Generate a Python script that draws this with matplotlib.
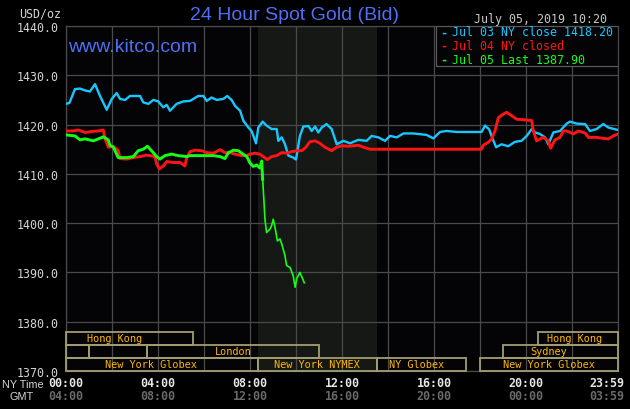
import matplotlib
matplotlib.use("Agg")
import matplotlib.pyplot as plt
from matplotlib.patches import Rectangle

# ---- data (hours after 00:00 NY time, USD/oz) ----
blue_hours = [0, 0.15, 0.39, 0.61, 0.85, 1.04, 1.26, 1.48, 1.77, 1.99, 2.2, 2.35, 2.57, 2.78,
              3.22, 3.36, 3.58, 3.8, 4.01, 4.23, 4.38, 4.52, 4.81, 5.1, 5.39, 5.75, 5.97, 6.12,
              6.33, 6.55, 6.84, 7.01, 7.2, 7.35, 7.57, 7.71, 7.93, 8.07, 8.17, 8.26, 8.36, 8.55,
              8.72, 8.94, 9.16, 9.23, 9.38, 9.52, 9.67, 9.88, 10.0, 10.17, 10.32, 10.54, 10.68,
              10.83, 10.97, 11.12, 11.33, 11.55, 11.77, 12.06, 12.35, 12.71, 13.07, 13.29, 13.58,
              13.87, 14.09, 14.38, 14.67, 15.1, 15.68, 15.97, 16.26, 16.55, 16.99, 18.07, 18.22,
              18.4, 18.55, 18.7, 18.94, 19.23, 19.52, 19.81, 20.03, 20.25, 20.4, 20.6, 20.83,
              20.97, 21.19, 21.48, 21.77, 21.91, 22.2, 22.57, 22.78, 23.07, 23.36, 23.58, 24]
blue_prices = [1424.2, 1424.4, 1427.2, 1427.3, 1426.9, 1426.7, 1428.2, 1425.8, 1423.0, 1425.2,
               1426.4, 1425.2, 1425.0, 1425.8, 1425.8, 1424.5, 1424.2, 1425.0, 1424.7, 1423.5,
               1424.0, 1422.8, 1424.2, 1424.7, 1424.8, 1425.8, 1425.8, 1424.8, 1425.5, 1425.0,
               1425.2, 1425.8, 1425.0, 1423.8, 1422.8, 1420.8, 1419.4, 1418.7, 1417.4, 1416.2,
               1419.4, 1420.6, 1419.8, 1419.1, 1419.1, 1416.7, 1417.4, 1416.0, 1413.7, 1413.3,
               1412.9, 1417.7, 1419.6, 1419.7, 1418.7, 1419.6, 1418.4, 1419.4, 1420.1, 1419.1,
               1416.0, 1416.7, 1416.2, 1416.9, 1416.7, 1417.7, 1417.4, 1416.7, 1417.7, 1417.4,
               1418.2, 1418.2, 1417.9, 1417.2, 1418.5, 1418.7, 1418.5, 1418.5, 1419.8, 1419.0,
               1417.1, 1415.4, 1416.0, 1415.6, 1416.5, 1416.7, 1417.7, 1419.1, 1418.4, 1418.1,
               1417.4, 1416.0, 1418.4, 1418.7, 1420.2, 1420.6, 1420.2, 1420.1, 1418.7, 1419.1,
               1420.1, 1419.4, 1418.9]

red_hours = [0, 0.3, 0.54, 0.83, 1.12, 1.41, 1.62, 1.7, 1.84, 2.06, 2.27, 2.35, 2.64, 2.93,
             3.22, 3.51, 3.87, 3.94, 4.06, 4.23, 4.38, 4.67, 4.96, 5.17, 5.25, 5.39, 5.61, 5.9,
             6.12, 6.41, 6.7, 6.91, 7.13, 7.35, 7.64, 7.86, 8.0, 8.22, 8.43, 8.58, 8.75, 8.94,
             9.16, 9.38, 9.59, 9.81, 10.03, 10.25, 10.43, 10.6, 10.83, 11.04, 11.26, 11.55,
             11.77, 11.99, 12.28, 12.71, 13.07, 13.22, 18.07, 18.14, 18.36, 18.51, 18.65, 18.8,
             19.01, 19.16, 19.38, 19.59, 19.88, 20.25, 20.32, 20.46, 20.75, 20.97, 21.07, 21.26,
             21.48, 21.62, 21.77, 22.06, 22.27, 22.57, 22.71, 23.07, 23.36, 23.58, 23.8, 24]
red_prices = [1418.7, 1418.7, 1418.9, 1418.4, 1418.6, 1418.7, 1418.9, 1417.1, 1415.4, 1415.6,
              1414.7, 1413.1, 1413.0, 1413.3, 1413.5, 1413.8, 1413.5, 1412.0, 1411.0, 1411.6,
              1412.5, 1412.3, 1412.3, 1411.6, 1413.3, 1414.5, 1414.8, 1414.7, 1414.3, 1414.2,
              1414.9, 1414.3, 1414.3, 1414.0, 1413.7, 1413.7, 1414.0, 1414.2, 1414.0, 1413.5,
              1412.9, 1413.5, 1413.7, 1414.3, 1414.2, 1414.5, 1414.7, 1414.7, 1415.4, 1416.5,
              1416.7, 1416.2, 1415.4, 1414.7, 1415.4, 1415.7, 1415.6, 1415.8, 1415.2, 1415.0,
              1415.0, 1415.8, 1416.4, 1417.1, 1418.7, 1421.4, 1422.1, 1422.5, 1421.8, 1421.1,
              1421.0, 1420.8, 1418.7, 1416.7, 1417.4, 1416.7, 1415.2, 1416.9, 1417.4, 1418.7,
              1418.7, 1418.1, 1418.7, 1418.3, 1417.4, 1417.4, 1417.2, 1417.1, 1417.7, 1418.1]

green_hours = [0, 0.39, 0.61, 0.83, 1.19, 1.41, 1.62, 1.84, 1.91, 2.06, 2.17, 2.27, 2.64, 2.93,
               3.14, 3.36, 3.54, 3.72, 3.94, 4.09, 4.3, 4.59, 4.88, 5.25, 5.39, 6.41, 6.7, 6.91,
               7.06, 7.28, 7.49, 7.64, 7.86, 8.0, 8.14, 8.29, 8.43, 8.51, 8.55, 8.61, 8.65, 8.72,
               8.87, 8.94, 9.01, 9.09, 9.19, 9.3, 9.38, 9.52, 9.59, 9.74, 9.88, 9.96, 10.03,
               10.17, 10.29, 10.36]
green_prices = [1417.9, 1417.7, 1416.9, 1417.1, 1416.7, 1417.1, 1417.5, 1416.9, 1415.8, 1415.4,
                1414.3, 1413.3, 1413.3, 1413.5, 1414.7, 1415.0, 1415.6, 1414.7, 1413.5, 1413.0,
                1413.7, 1414.0, 1413.7, 1413.5, 1413.7, 1413.7, 1413.5, 1413.1, 1414.3, 1414.8,
                1414.7, 1414.2, 1413.5, 1412.2, 1411.5, 1411.8, 1411.2, 1412.6, 1408.9, 1404.2,
                1400.8, 1398.1, 1398.8, 1399.5, 1400.8, 1399.1, 1396.4, 1396.8, 1395.8, 1393.4,
                1391.4, 1391.0, 1389.3, 1387.0, 1388.7, 1390.0, 1388.7, 1387.9]

legend_labels = ["Jul 03 NY close 1418.20", "Jul 04 NY closed", "Jul 05 Last 1387.90"]
series_colors = ["#16c8ff", "#ff1414", "#14ff14"]

# trading sessions drawn in the bottom band
session_names = ["Hong Kong", "", "", "London", "New York Globex", "New York NYMEX",
                 "NY Globex", "New York Globex", "Sydney", "Hong Kong"]
session_rows = [0, 1, 1, 1, 2, 2, 2, 2, 1, 0]
session_start = [0, 0, 1, 3.5, 0, 8.33, 13.5, 18, 19, 20.5]
session_end = [5.5, 1, 3.5, 11, 8.33, 13.5, 17.37, 24, 24, 24]
session_label_at = [2.13, 0, 0, 7.25, 3.68, 10.92, 15.25, 21.0, 21.0, 22.1]
row_top = [1377.9, 1375.3, 1372.65]
row_bottom = [1375.3, 1372.65, 1370.05]

ny_labels = ["00:00", "04:00", "08:00", "12:00", "16:00", "20:00", "23:59"]
gmt_labels = ["04:00", "08:00", "12:00", "16:00", "20:00", "00:00", "03:59"]
label_hours = [0, 4, 8, 12, 16, 20, 23.5]

mono = "DejaVu Sans Mono"
W, H = 630, 410

fig = plt.figure(figsize=(6.3, 4.1), dpi=100, facecolor="#000000")
ax = fig.add_axes([66 / W, 1 - 372 / H, 552 / W, 345 / H])
ax.set_facecolor("#040407")


def fx(px):
    return px / W


def fy(py):
    return 1 - py / H


ax.set_xlim(0, 24)
ax.set_ylim(1370, 1440)
ax.set_xticks(range(0, 25, 2))
ax.set_yticks(range(1370, 1441, 10))
ax.set_xticklabels([])
ax.set_yticklabels(["%.1f" % v for v in range(1370, 1441, 10)], family=mono,
                   fontsize=8.4, color="#d4d4d4")
ax.tick_params(length=0, pad=5)
ax.grid(True, color="#4a4a4a", lw=0.9)
ax.set_axisbelow(True)
for s in ax.spines.values():
    s.set_color("#4a4a4a")
    s.set_linewidth(0.9)

# NYMEX pit hours
ax.axvspan(8.33, 13.5, color="#151815", zorder=0.5, lw=0)

ax.plot(blue_hours, blue_prices, color=series_colors[0], lw=1.7, zorder=3)
ax.plot(red_hours, red_prices, color=series_colors[1], lw=2.1, zorder=3)
ax.plot(green_hours[:39], green_prices[:39], color=series_colors[2], lw=2.1, zorder=4)
ax.plot(green_hours[37:], green_prices[37:], color=series_colors[2], lw=1.2, zorder=4)

# session boxes
for name, r, a, b, lx in zip(session_names, session_rows, session_start, session_end,
                             session_label_at):
    ax.add_patch(Rectangle((a, row_bottom[r]), b - a, row_top[r] - row_bottom[r],
                           fill=False, ec="#a29e72", lw=1.3, zorder=5, clip_on=False))
    if name:
        ax.text(lx, (row_top[r] + row_bottom[r]) / 2, name, family=mono, fontsize=7.4,
                color="#ffb800", ha="center", va="center", zorder=6)

# legend box
ax.add_patch(Rectangle((0.67, 0.884), 0.33, 0.116, transform=ax.transAxes,
                       fc="#040407", ec="#5a5a5a", lw=0.9, zorder=7))
for i, (lab, col) in enumerate(zip(legend_labels, series_colors)):
    ty = fy(33 + 13.5 * i)
    fig.text(fx(443.5), ty, "-", family=mono, fontsize=8.4, color=col,
             ha="center", va="center", weight="bold", zorder=8)
    fig.text(fx(452), ty, lab, family=mono, fontsize=8.4, color=col,
             ha="left", va="center", zorder=8)

# header texts
fig.text(fx(295), fy(16), "24 Hour Spot Gold (Bid)", family="Liberation Sans",
         fontsize=14, color="#4f6ff5", ha="center", va="center")
fig.text(fx(61), fy(14), "USD/oz", family=mono, fontsize=8.4, color="#d4d4d4",
         ha="right", va="center")
fig.text(fx(541), fy(20), "July 05, 2019 10:20", family=mono, fontsize=8.4,
         color="#c8c8c8", ha="center", va="center")
fig.text(fx(68), fy(48), "www.kitco.com", family="Liberation Sans", fontsize=14,
         color="#4f6ff5", ha="left", va="center")

# time axis labels
fig.text(fx(2), fy(385), "NY Time", family="Liberation Sans", fontsize=7.8,
         color="#d4d4d4", ha="left", va="center")
fig.text(fx(10), fy(397), "GMT", family="Liberation Sans", fontsize=7.8,
         color="#d4d4d4", ha="left", va="center")
tr = ax.get_xaxis_transform()
for hh, ny, gmt in zip(label_hours, ny_labels, gmt_labels):
    ax.text(hh, -12 / 345, ny, transform=tr, family=mono, fontsize=8.4, weight="bold",
            color="#e6e6e6", ha="center", va="center", clip_on=False)
    ax.text(hh, -25 / 345, gmt, transform=tr, family=mono, fontsize=8.4, weight="bold",
            color="#6a6a6a", ha="center", va="center", clip_on=False)

fig.savefig("out.png", dpi=100, facecolor=fig.get_facecolor())
